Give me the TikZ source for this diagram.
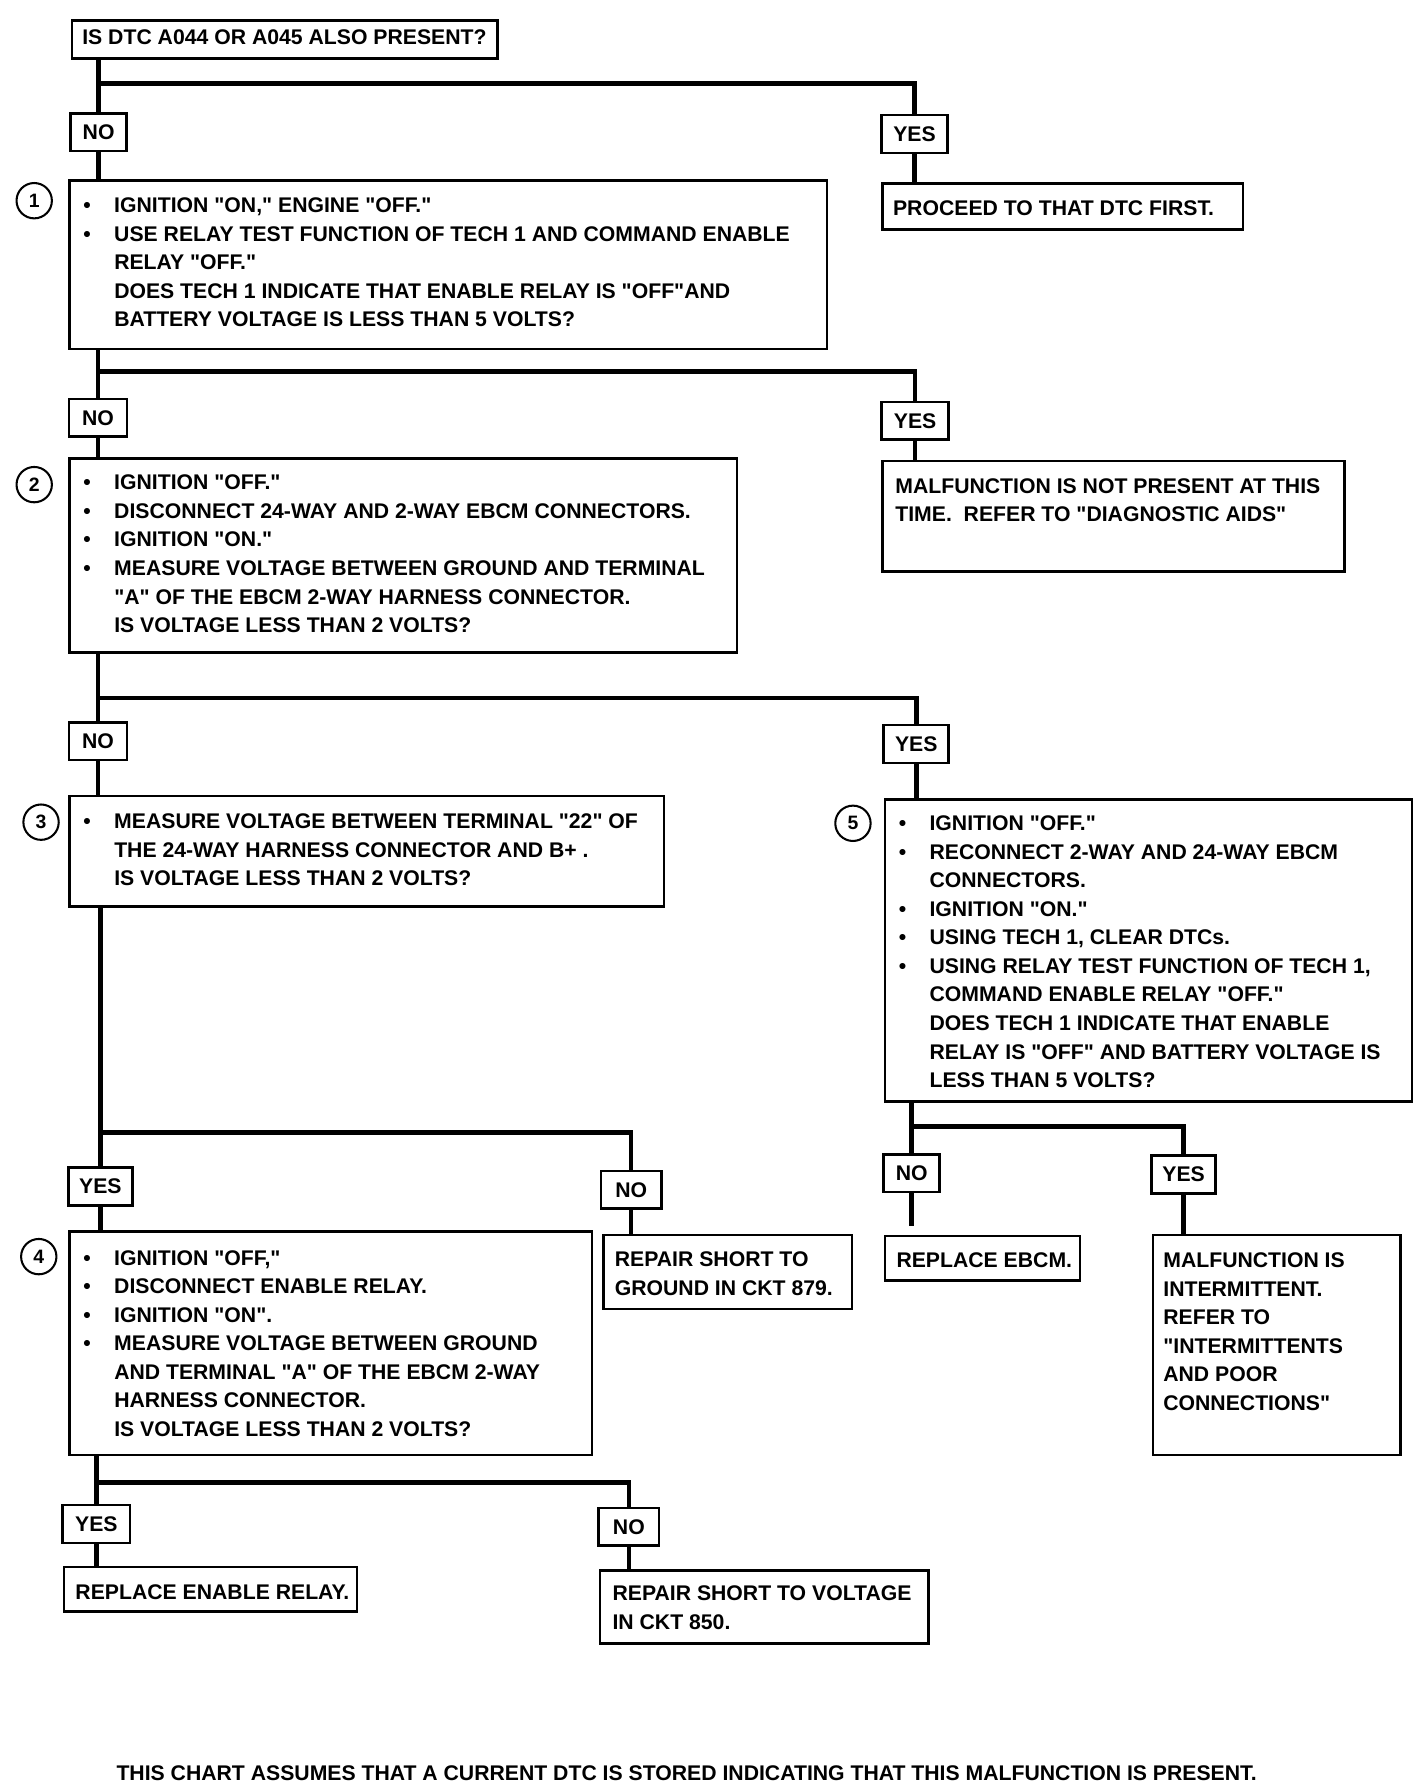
\documentclass[tikz,border=0pt]{standalone}
\usepackage{fontspec}
\setmainfont{Liberation Sans}[Ligatures=TeXOff]
\newcommand\mkbox[5]{\node[boxst, anchor=north west, minimum width={#4pt-#2pt}, minimum height={#5pt-#3pt}] (#1) at (#2,#3) {};}
\newcommand\mktext[4]{\node[txt, anchor=north west] (#1) at (#2,#3) {#4};}
\newcommand\bu{\makebox[27pt][l]{\textbullet}}
\newcommand\ind{\hspace*{27pt}}
\begin{document}
\begin{tikzpicture}[x=1pt,y=-1pt,
  conn/.style={line width=4pt},
  boxst/.style={draw, line width=2.2pt, inner sep=0pt},
  txt/.style={inner sep=0pt, align=left, font=\fontsize{18.6}{25}\selectfont\bfseries},
  lbl/.style={draw, line width=2.2pt, inner sep=0pt, minimum height=33pt, font=\fontsize{18.6}{25}\selectfont\bfseries},
  num/.style={circle, draw, line width=1.8pt, minimum size=31pt, inner sep=0pt, font=\fontsize{17}{20}\selectfont\bfseries}]
\fill[white] (0,0) rectangle (1249,1568);
\useasboundingbox (0,0) rectangle (1249,1568);

% boxes
\mkbox{tb}{62}{17}{435}{50}
\mktext{tbt}{72}{25.5}{IS DTC A044 OR A045 ALSO PRESENT?}

\mkbox{s1}{60}{157}{724}{305}
\mktext{s1t}{73}{173.5}{\bu IGNITION "ON," ENGINE "OFF."\\
\bu USE RELAY TEST FUNCTION OF TECH 1 AND COMMAND ENABLE\\
\ind RELAY "OFF."\\
\ind DOES TECH 1 INDICATE THAT ENABLE RELAY IS "OFF"AND\\
\ind BATTERY VOLTAGE IS LESS THAN 5 VOLTS?}
\node[num] (c1) at (30,176) {1};

\mkbox{pr}{773}{160}{1089}{200}
\mktext{prt}{783}{175.5}{PROCEED TO THAT DTC FIRST.}

\mkbox{s2}{60}{401}{645}{571}
\mktext{s2t}{73}{416.5}{\bu IGNITION "OFF."\\
\bu DISCONNECT 24-WAY AND 2-WAY EBCM CONNECTORS.\\
\bu IGNITION "ON."\\
\bu MEASURE VOLTAGE BETWEEN GROUND AND TERMINAL\\
\ind "A" OF THE EBCM 2-WAY HARNESS CONNECTOR.\\
\ind IS VOLTAGE LESS THAN 2 VOLTS?}
\node[num] (c2) at (30,425) {2};

\mkbox{np}{773}{403}{1178}{500}
\mktext{npt}{785}{419.5}{MALFUNCTION IS NOT PRESENT AT THIS\\
TIME.\ \ REFER TO "DIAGNOSTIC AIDS"}

\mkbox{s3}{60}{697}{581}{794}
\mktext{s3t}{73}{713.5}{\bu MEASURE VOLTAGE BETWEEN TERMINAL "22" OF\\
\ind THE 24-WAY HARNESS CONNECTOR AND B+ .\\
\ind IS VOLTAGE LESS THAN 2 VOLTS?}
\node[num] (c3) at (36,721) {3};

\mkbox{s5}{775}{700}{1237}{965}
\mktext{s5t}{788}{715.5}{\bu IGNITION "OFF."\\
\bu RECONNECT 2-WAY AND 24-WAY EBCM\\
\ind CONNECTORS.\\
\bu IGNITION "ON."\\
\bu USING TECH 1, CLEAR DTCs.\\
\bu USING RELAY TEST FUNCTION OF TECH 1,\\
\ind COMMAND ENABLE RELAY "OFF."\\
\ind DOES TECH 1 INDICATE THAT ENABLE\\
\ind RELAY IS "OFF" AND BATTERY VOLTAGE IS\\
\ind LESS THAN 5 VOLTS?}
\node[num] (c5) at (748,722) {5};

\mkbox{s4}{60}{1079}{518}{1275}
\mktext{s4t}{73}{1096.5}{\bu IGNITION "OFF,"\\
\bu DISCONNECT ENABLE RELAY.\\
\bu IGNITION "ON".\\
\bu MEASURE VOLTAGE BETWEEN GROUND\\
\ind AND TERMINAL "A" OF THE EBCM 2-WAY\\
\ind HARNESS CONNECTOR.\\
\ind IS VOLTAGE LESS THAN 2 VOLTS?}
\node[num] (c4) at (34,1102) {4};

\mkbox{rg}{528}{1082}{746}{1147}
\mktext{rgt}{539}{1097.5}{REPAIR SHORT TO\\GROUND IN CKT 879.}

\mkbox{re}{775}{1083}{946}{1122}
\mktext{ret}{786}{1098.5}{REPLACE EBCM.}

\mkbox{mi}{1010}{1082}{1227}{1275}
\mktext{mit}{1020}{1098.5}{MALFUNCTION IS\\INTERMITTENT.\\REFER TO\\"INTERMITTENTS\\AND POOR\\CONNECTIONS"}

\mkbox{rr}{55}{1373}{312}{1412}
\mktext{rrt}{66}{1389.5}{REPLACE ENABLE RELAY.}

\mkbox{rv}{525}{1376}{813}{1440}
\mktext{rvt}{537}{1390.5}{REPAIR SHORT TO VOLTAGE\\IN CKT 850.}

\node[txt, anchor=west] (ft) at (102,1555) {THIS CHART ASSUMES THAT A CURRENT DTC IS STORED INDICATING THAT THIS MALFUNCTION IS PRESENT.};

% labels
\node[lbl, minimum width=49pt] (no1) at (86.5,116) {NO};
\node[lbl, minimum width=58pt] (yes1) at (802,117.5) {YES};
\node[lbl, minimum width=51pt] (no2) at (86,366.5) {NO};
\node[lbl, minimum width=59pt] (yes2) at (802.5,369) {YES};
\node[lbl, minimum width=51pt] (no3) at (86,650) {NO};
\node[lbl, minimum width=57pt] (yes3) at (803.5,652.5) {YES};
\node[lbl, minimum width=56pt] (yes4) at (88,1040.5) {YES};
\node[lbl, minimum width=53pt] (no4) at (553.5,1043.5) {NO};
\node[lbl, minimum width=49pt] (no5) at (799.5,1029) {NO};
\node[lbl, minimum width=56pt] (yes5) at (1038,1030) {YES};
\node[lbl, minimum width=59pt] (yes6) at (84.5,1336.5) {YES};
\node[lbl, minimum width=53pt] (no6) at (551.5,1339) {NO};

% junctions
\coordinate (j1) at (86.5,73);
\coordinate (j2) at (86,326);
\coordinate (j3) at (86,612);
\coordinate (j4) at (88,993);
\coordinate (j5) at (799.5,988);
\coordinate (j6) at (84.5,1300);

% connectors
\draw[conn] (tb.south -| no1) -- (no1.north);
\draw[conn] (j1) -| (yes1.north);
\draw[conn] (no1.south) -- (s1.north -| no1);
\draw[conn] (yes1.south) -- (pr.north -| yes1);

\draw[conn] (s1.south -| no2) -- (no2.north);
\draw[conn] (j2) -| (yes2.north);
\draw[conn] (no2.south) -- (s2.north -| no2);
\draw[conn] (yes2.south) -- (np.north -| yes2);

\draw[conn] (s2.south -| no3) -- (no3.north);
\draw[conn] (j3) -| (yes3.north);
\draw[conn] (no3.south) -- (s3.north -| no3);
\draw[conn] (yes3.south) -- (s5.north -| yes3);

\draw[conn] (s3.south -| yes4) -- (yes4.north);
\draw[conn] (j4) -| (no4.north);
\draw[conn] (yes4.south) -- (s4.north -| yes4);
\draw[conn] (no4.south) -- (rg.north -| no4);

\draw[conn] (s5.south -| no5) -- (no5.north);
\draw[conn] (j5) -| (yes5.north);
\draw[conn] (no5.south) -- ([yshift=8pt]re.north -| no5);
\draw[conn] (yes5.south) -- (mi.north -| yes5);

\draw[conn] (s4.south -| yes6) -- (yes6.north);
\draw[conn] (j6) -| (no6.north);
\draw[conn] (yes6.south) -- (rr.north -| yes6);
\draw[conn] (no6.south) -- (rv.north -| no6);
\end{tikzpicture}
\end{document}
